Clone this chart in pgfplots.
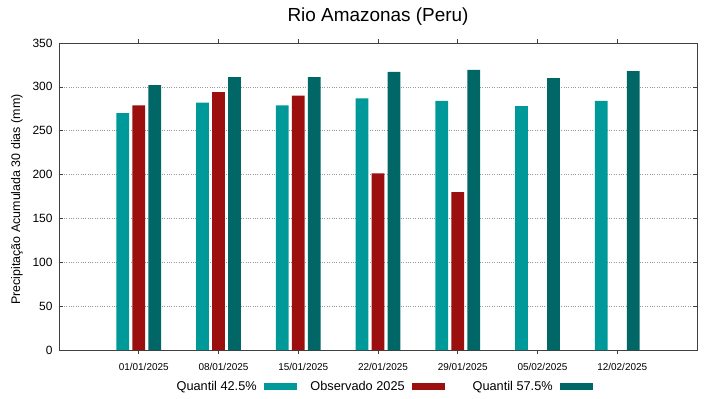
\documentclass[border=0pt]{standalone}
\usepackage{fontspec}
\setmainfont{Liberation Sans}
\usepackage{pgfplots}
\pgfplotsset{compat=1.18}
\definecolor{cA}{RGB}{0,153,153}
\definecolor{cB}{RGB}{155,15,15}
\definecolor{cC}{RGB}{0,102,102}
\begin{document}
\begin{tikzpicture}
\useasboundingbox (-59bp,-49bp) rectangle (660bp,350bp);
\begin{axis}[
  at={(0,0)}, anchor=south west,
  scale only axis, width=638bp, height=307bp,
  xmin=-1, xmax=7, ymin=0, ymax=350,
  ytick={0,50,...,350},
  xtick={0,...,6},
  xticklabels={01/01/2025,08/01/2025,15/01/2025,22/01/2025,29/01/2025,05/02/2025,12/02/2025},
  /pgf/number format/assume math mode=true,
  ymajorgrids, grid style={dotted, black!40, line width=0.5pt},
  axis line style={black!75, line width=0.8pt},
  major tick length=4bp,
  tick style={black!75, line width=0.6pt},
  ticklabel style={font=\fontsize{12}{14}\selectfont},
  xticklabel style={font=\fontsize{10}{12}\selectfont, yshift=-6bp, xshift=5bp},
  yticklabel style={xshift=-3bp},
  ylabel={Precipitação Acumulada 30 dias (mm)},
  ylabel style={font=\fontsize{12.5}{15}\selectfont, at={(axis description cs:-0.066,0.49)}, anchor=center},
  title={Rio Amazonas (Peru)},
  title style={font=\fontsize{19}{22}\selectfont, at={(axis description cs:0.5,1.065)}, anchor=center},
  legend plot pos=right,
  legend columns=3,
  legend style={at={(axis description cs:0.4886,-0.12)}, anchor=center, draw=none, fill=none,
    font=\fontsize{12.8}{15}\selectfont,
    /tikz/every even column/.append style={column sep=0bp},
    /tikz/every odd column/.append style={column sep=0bp},
    nodes={inner xsep=0pt},
    inner sep=0pt, row sep=0pt},
  ybar, bar width=0.16,
]
\addplot[fill=cA, draw=none, bar shift=-0.2,
  legend image code/.code={\fill[cA] (0bp,-3.5bp) rectangle (33bp,3.5bp);}]
  coordinates {(0,270) (1,282) (2,279) (3,287) (4,284) (5,278) (6,284)};
\addlegendentry{\makebox[115bp][r]{Quantil 42.5\%\hspace{7bp}}}
\addplot[fill=cB, draw=none, bar shift=0,
  legend image code/.code={\fill[cB] (0bp,-3.5bp) rectangle (33bp,3.5bp);}]
  coordinates {(0,279) (1,294) (2,290) (3,201.5) (4,180)};
\addlegendentry{\makebox[115bp][r]{Observado 2025\hspace{7bp}}}
\addplot[fill=cC, draw=none, bar shift=0.2,
  legend image code/.code={\fill[cC] (0bp,-3.5bp) rectangle (33bp,3.5bp);}]
  coordinates {(0,302) (1,311) (2,311) (3,317) (4,319.5) (5,310) (6,318)};
\addlegendentry{\makebox[115bp][r]{Quantil 57.5\%\hspace{7bp}}}
\end{axis}
\end{tikzpicture}
\end{document}
